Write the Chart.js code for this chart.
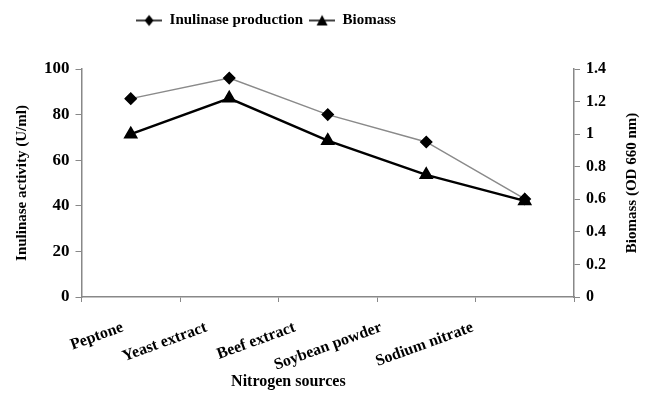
<!DOCTYPE html>
<html>
<head>
<meta charset="utf-8">
<script src="https://cdn.jsdelivr.net/npm/chart.js@4.4.1/dist/chart.umd.min.js"></script>
<style>
  html, body { margin: 0; padding: 0; background: #fff; }
  #wrap { width: 650px; height: 398px; }
</style>
</head>
<body>
<div id="wrap"><canvas id="lineChart"></canvas></div>
<script>
// nitrogen sources on the x axis
var sources = ["Peptone", "Yeast extract", "Beef extract", "Soybean powder", "Sodium nitrate"];
// inulinase activity (U/ml), left axis
var inulinase = [87, 96, 80, 68, 43];
// biomass (OD 660 nm), right axis
var biomass = [1.0, 1.22, 0.96, 0.75, 0.59];

var leftTicks = [0, 20, 40, 60, 80, 100];
var rightTicks = [0, 0.2, 0.4, 0.6, 0.8, 1, 1.2, 1.4];

var serif = "'Liberation Serif', 'DejaVu Serif', serif";
var tickFont = { family: serif, size: 16, weight: 'bold' };
var yTickFont = { family: serif, size: 17, weight: 'bold' };
var rightTitle = 'Biomass (OD 660 nm)';
var xTitle = 'Nitrogen sources';

// small legend swatches: line with the marker in the middle
function swatch(kind) {
    var c = document.createElement('canvas');
    c.width = 26; c.height = 14;
    var g = c.getContext('2d');
    g.strokeStyle = '#000';
    g.lineWidth = 1.5;
    g.beginPath(); g.moveTo(0, 7); g.lineTo(26, 7); g.stroke();
    g.fillStyle = '#000';
    g.beginPath();
    if (kind == 'diamond') {
        g.moveTo(13, 1.5); g.lineTo(17.5, 7); g.lineTo(13, 12.5); g.lineTo(8.5, 7);
    } else {
        g.moveTo(13, 1.5); g.lineTo(18.5, 12); g.lineTo(7.5, 12);
    }
    g.closePath(); g.fill();
    return c;
}
var legendIcons = [swatch('diamond'), swatch('triangle')];

var chartdata = {
    labels: sources,
    datasets: [
        {
            label: "Inulinase production",
            data: inulinase,
            yAxisID: 'y',
            borderColor: '#8a8a8a',
            borderWidth: 1.5,
            backgroundColor: '#000',
            pointStyle: 'rectRot',
            pointRadius: 5.5,
            pointBorderColor: '#000',
            pointBackgroundColor: '#000',
            fill: false,
            tension: 0
        },
        {
            label: "Biomass",
            data: biomass,
            yAxisID: 'y1',
            borderColor: '#000',
            borderWidth: 2.5,
            backgroundColor: '#000',
            pointStyle: 'triangle',
            pointRadius: 6,
            pointBorderColor: '#000',
            pointBackgroundColor: '#000',
            fill: false,
            tension: 0
        }
    ]
};

// the category labels drift left like in the original figure
var labelDrift = [-8, -23, -33, -45, -52];

// extra room under the legend, legend nudged left, titles drawn by hand
var layoutFix = {
    id: 'layoutFix',
    beforeInit: function (chart) {
        var fit = chart.legend.fit;
        chart.legend.fit = function () {
            fit.bind(chart.legend)();
            this.height += 31;
        };
    },
    afterLayout: function (chart) {
        chart.legend.left -= 56;
        chart.legend.right -= 56;
    },
    beforeDraw: function (chart) {
        var items = chart.scales.x.getLabelItems();
        if (!items._drifted) {
            items.forEach(function (it, i) {
                it.options.translation[0] += labelDrift[i] || 0;
            });
            items._drifted = true;
        }
    },
    afterDraw: function (chart) {
        var s = chart.scales.y1;
        var x = chart.scales.x;
        var area = chart.chartArea;
        var ctx = chart.ctx;
        ctx.save();
        ctx.font = 'bold 15px ' + serif;
        ctx.fillStyle = '#000';
        ctx.textAlign = 'center';
        ctx.textBaseline = 'middle';
        ctx.translate(s.right - 6, (s.top + s.bottom) / 2);
        ctx.rotate(-Math.PI / 2);
        ctx.fillText(rightTitle, 0, 0);
        ctx.restore();
        ctx.save();
        ctx.font = 'bold 16px ' + serif;
        ctx.fillStyle = '#000';
        ctx.textAlign = 'center';
        ctx.textBaseline = 'middle';
        ctx.fillText(xTitle, area.left + (area.right - area.left) * 0.42, x.bottom - 9);
        ctx.restore();
    }
};

var graphTarget = document.getElementById("lineChart");

var lineGraph = new Chart(graphTarget, {
    type: 'line',
    data: chartdata,
    plugins: [layoutFix],
    options: {
        responsive: true,
        maintainAspectRatio: false,
        animation: false,
        layout: { padding: { left: 6, right: 12, top: 7, bottom: 7 } },
        plugins: {
            legend: {
                position: 'top',
                labels: {
                    usePointStyle: true,
                    pointStyleWidth: 26,
                    color: '#000',
                    font: { family: serif, size: 15, weight: 'bold' },
                    padding: 6,
                    generateLabels: function (chart) {
                        return chart.data.datasets.map(function (ds, i) {
                            return {
                                text: ds.label,
                                pointStyle: legendIcons[i],
                                fontColor: '#000',
                                lineWidth: 0,
                                datasetIndex: i
                            };
                        });
                    }
                }
            },
            tooltip: { enabled: false }
        },
        scales: {
            x: {
                offset: true,
                afterFit: function (scale) { scale.height = 94; },
                grid: {
                    display: true,
                    offset: true,
                    drawOnChartArea: false,
                    tickLength: 5,
                    color: '#888'
                },
                border: { color: '#888', width: 1.5 },
                ticks: {
                    color: '#000',
                    font: tickFont,
                    minRotation: 20,
                    maxRotation: 20,
                    padding: 16
                },
                title: { display: false }
            },
            y: {
                position: 'left',
                min: 0,
                max: 100,
                afterBuildTicks: function (axis) {
                    axis.ticks = leftTicks.map(function (v) { return { value: v }; });
                },
                grid: { drawOnChartArea: false, tickLength: 6, color: '#888' },
                border: { color: '#888', width: 1.5 },
                ticks: { color: '#000', font: yTickFont, padding: 6 },
                title: {
                    display: true,
                    text: 'Inulinase activity (U/ml)',
                    color: '#000',
                    font: { family: serif, size: 15, weight: 'bold' },
                    padding: 7
                }
            },
            y1: {
                position: 'right',
                min: 0,
                max: 1.4,
                afterBuildTicks: function (axis) {
                    axis.ticks = rightTicks.map(function (v) { return { value: v }; });
                },
                grid: { drawOnChartArea: false, tickLength: 6, color: '#888' },
                border: { color: '#888', width: 1.5 },
                ticks: {
                    color: '#000',
                    font: tickFont,
                    padding: 6,
                    callback: function (v) { return String(Math.round(v * 10) / 10); }
                },
                title: {
                    display: true,
                    text: rightTitle,
                    color: 'rgba(0,0,0,0)',
                    font: { family: serif, size: 15, weight: 'bold' }
                }
            }
        }
    }
});
</script>
</body>
</html>
